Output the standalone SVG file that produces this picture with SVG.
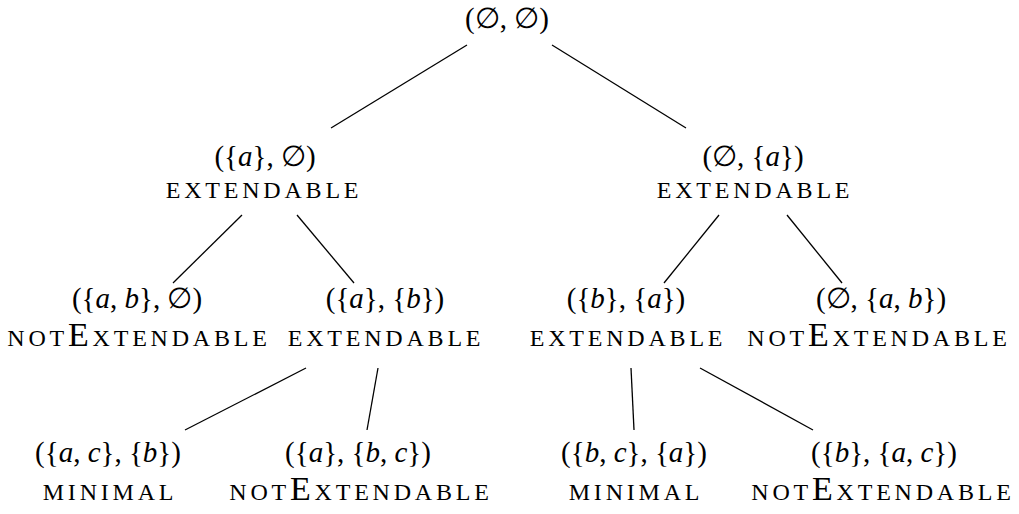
<svg xmlns="http://www.w3.org/2000/svg" width="1019" height="514" viewBox="0 0 1019 514">
  <style>
    .m { font-family: "Liberation Serif", "DejaVu Serif", serif; font-size: 29px; fill: #000; text-anchor: middle; }
    .m tspan.v { font-style: italic; }
    .sc { font-family: "Liberation Serif", "DejaVu Serif", serif; font-size: 34px; font-variant: small-caps; letter-spacing: 3.8px; fill: #000; text-anchor: middle; }
    .edge { stroke: #000; stroke-width: 1.3; fill: none; }
  </style>
  <rect width="1019" height="514" fill="#fff"/>

  <g id="connectors">
    <line class="edge" x1="467" y1="45" x2="331" y2="128"/>
    <line class="edge" x1="552" y1="45" x2="686" y2="128"/>
    <line class="edge" x1="242" y1="215" x2="173" y2="283"/>
    <line class="edge" x1="297" y1="215" x2="354" y2="283"/>
    <line class="edge" x1="719" y1="215" x2="664" y2="283"/>
    <line class="edge" x1="787" y1="215" x2="842" y2="283"/>
    <line class="edge" x1="306" y1="368" x2="185" y2="430"/>
    <line class="edge" x1="378" y1="368" x2="367" y2="430"/>
    <line class="edge" x1="631" y1="368" x2="634" y2="430"/>
    <line class="edge" x1="700" y1="368" x2="813" y2="430"/>
  </g>

  <!-- math labels use thin spaces after commas -->
  <g id="root">
    <text class="m" x="507" y="28">(∅, ∅)</text>
  </g>

  <g id="n-a-empty">
    <text class="m" x="265" y="166">({<tspan class="v">a</tspan>}, ∅)</text>
    <text class="sc" x="264" y="198">extendable</text>
  </g>

  <g id="n-empty-a">
    <text class="m" x="753" y="166">(∅, {<tspan class="v">a</tspan>})</text>
    <text class="sc" x="755" y="198">extendable</text>
  </g>

  <g id="n-ab-empty">
    <text class="m" x="137" y="308">({<tspan class="v">a</tspan>, <tspan class="v">b</tspan>}, ∅)</text>
    <text class="sc" x="139" y="346">notExtendable</text>
  </g>

  <g id="n-a-b">
    <text class="m" x="385" y="308">({<tspan class="v">a</tspan>}, {<tspan class="v">b</tspan>})</text>
    <text class="sc" x="386" y="346">extendable</text>
  </g>

  <g id="n-b-a">
    <text class="m" x="626" y="308">({<tspan class="v">b</tspan>}, {<tspan class="v">a</tspan>})</text>
    <text class="sc" x="628" y="346">extendable</text>
  </g>

  <g id="n-empty-ab">
    <text class="m" x="881" y="308">(∅, {<tspan class="v">a</tspan>, <tspan class="v">b</tspan>})</text>
    <text class="sc" x="879" y="346">notExtendable</text>
  </g>

  <g id="n-ac-b">
    <text class="m" x="108" y="462">({<tspan class="v">a</tspan>, <tspan class="v">c</tspan>}, {<tspan class="v">b</tspan>})</text>
    <text class="sc" x="110" y="500">minimal</text>
  </g>

  <g id="n-a-bc">
    <text class="m" x="358" y="462">({<tspan class="v">a</tspan>}, {<tspan class="v">b</tspan>, <tspan class="v">c</tspan>})</text>
    <text class="sc" x="361" y="500">notExtendable</text>
  </g>

  <g id="n-bc-a">
    <text class="m" x="634" y="462">({<tspan class="v">b</tspan>, <tspan class="v">c</tspan>}, {<tspan class="v">a</tspan>})</text>
    <text class="sc" x="636" y="500">minimal</text>
  </g>

  <g id="n-b-ac">
    <text class="m" x="884" y="462">({<tspan class="v">b</tspan>}, {<tspan class="v">a</tspan>, <tspan class="v">c</tspan>})</text>
    <text class="sc" x="883" y="500">notExtendable</text>
  </g>
</svg>
